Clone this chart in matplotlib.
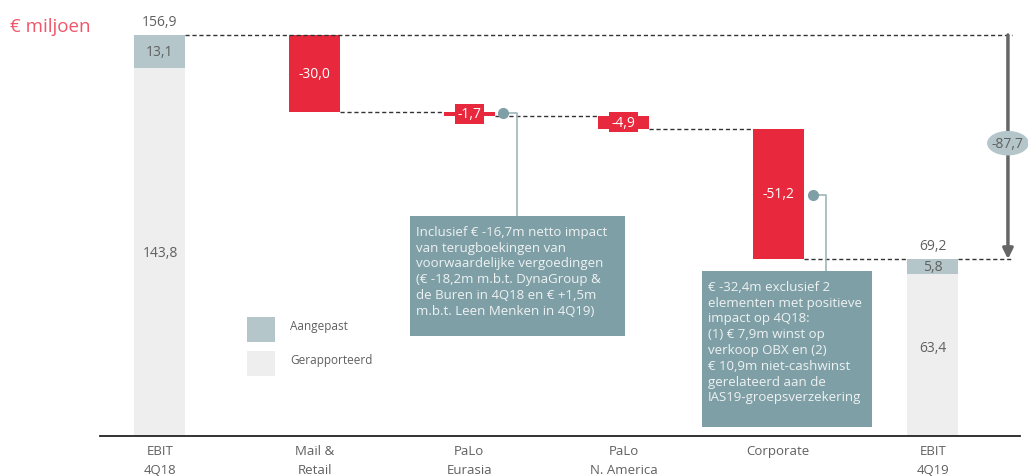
import numpy as np
import matplotlib
matplotlib.use("Agg")
import matplotlib.pyplot as plt
from matplotlib.patches import Rectangle, Ellipse

plt.rcParams['font.family'] = ['Open Sans', 'DejaVu Sans']

# data
categories = ["EBIT\n4Q18", "Mail &\nRetail", "PaLo\nEurasia", "PaLo\nN. America", "Corporate", "EBIT\n4Q19"]
start_reported = 143.8
start_adjusted = 13.1
deltas = [-30.0, -1.7, -4.9, -51.2]
end_reported = 63.4
end_adjusted = 5.8
delta_labels = ["-30,0", "-1,7", "-4,9", "-51,2"]
total_label = "-87,7"

note1 = ("Inclusief € -16,7m netto impact\nvan terugboekingen van\nvoorwaardelijke vergoedingen\n"
         "(€ -18,2m m.b.t. DynaGroup &\nde Buren in 4Q18 en € +1,5m\nm.b.t. Leen Menken in 4Q19)")
note2 = ("€ -32,4m exclusief 2\nelementen met positieve\nimpact op 4Q18:\n(1) € 7,9m winst op\n"
         "verkoop OBX en (2)\n€ 10,9m niet-cashwinst\ngerelateerd aan de\nIAS19-groepsverzekering")

RED = "#e8283c"
ADJ = "#b4c6ca"
REP = "#eeeeee"
BOX = "#7f9fa6"
GRAY = "#666666"
TXT = "#606060"

def fmt(v):
    return f"{v:.1f}".replace(".", ",")

fig = plt.figure(figsize=(10.28, 4.77), dpi=100)
ax = fig.add_axes([100 / 1028, 40 / 477, 920 / 1028, 437 / 477])
ax.set_xlim(-0.388, 5.563)
ax.set_ylim(0, 170.97)
for s in ["top", "right", "left"]:
    ax.spines[s].set_visible(False)
ax.spines["bottom"].set_color("#222222")
ax.spines["bottom"].set_linewidth(1.3)
ax.set_yticks([])
ax.set_xticks(range(len(categories)))
ax.set_xticklabels(categories, fontsize=9.5, color=TXT, linespacing=1.55)
ax.tick_params(axis="x", length=0, pad=6)

w = 0.33
x = np.arange(len(categories))

# start bar
start_total = start_reported + start_adjusted
ax.bar(x[0], start_reported, w, color=REP)
ax.bar(x[0], start_adjusted, w, bottom=start_reported, color=ADJ)
ax.text(x[0], start_reported / 2, fmt(start_reported), ha="center", va="center", fontsize=10, color=TXT)
ax.text(x[0], start_reported + start_adjusted / 2, fmt(start_adjusted), ha="center", va="center", fontsize=10, color=TXT)
ax.text(x[0], start_total + 2.5, fmt(start_total), ha="center", va="bottom", fontsize=10, color=TXT)

# end bar
end_total = end_reported + end_adjusted
ax.bar(x[5], end_reported, w, color=REP)
ax.bar(x[5], end_adjusted, w, bottom=end_reported, color=ADJ)
ax.text(x[5], end_reported / 2 + 3, fmt(end_reported), ha="center", va="center", fontsize=10, color=TXT)
ax.text(x[5], end_reported + end_adjusted / 2, fmt(end_adjusted), ha="center", va="center", fontsize=10, color=TXT)
ax.text(x[5], end_total + 2.5, fmt(end_total), ha="center", va="bottom", fontsize=10, color=TXT)

# deltas
level = start_total
levels = [level]
for i, d in enumerate(deltas):
    xi = x[i + 1]
    ax.bar(xi, d, w, bottom=level, color=RED)
    mid = level + d / 2
    if abs(d) > 10:
        ax.text(xi, mid, delta_labels[i], ha="center", va="center", fontsize=10, color="white")
    else:
        ax.text(xi, mid, delta_labels[i], ha="center", va="center", fontsize=10, color="white",
                bbox=dict(boxstyle="square,pad=0.18", fc=RED, ec="none"))
    level = level + d
    levels.append(level)

# dashed connectors
dash = dict(color="#333333", lw=1, ls=(0, (3, 2)))
ax.plot([x[0] + w / 2, 5.51], [levels[0], levels[0]], **dash)
for i in range(1, len(levels)):
    x0 = x[i] + w / 2
    x1 = x[i + 1] - w / 2
    ax.plot([x0, x1], [levels[i], levels[i]], **dash)
ax.plot([x[5] + w / 2, 5.51], [end_total, end_total], **dash)

# total arrow
ax.annotate("", xy=(5.485, end_total), xytext=(5.485, start_total),
            arrowprops=dict(arrowstyle="-|>,head_width=0.3,head_length=0.6", color=GRAY, lw=2.5,
                            shrinkA=0, shrinkB=0))
mid_y = (start_total + end_total) / 2 + 1.5
ax.add_patch(Ellipse((5.485, mid_y), 0.27, 9.6, fc=ADJ, ec="none", zorder=5, clip_on=False))
ax.text(5.485, mid_y, total_label, ha="center", va="center", fontsize=10, color=TXT, zorder=6, clip_on=False)

# notes
def note(xy_dot, x_turn, box, text):
    bx0, by0, bx1, by1 = box
    ax.plot([xy_dot[0], x_turn, x_turn], [xy_dot[1], xy_dot[1], by1], color="#9fb5ba", lw=1.2, zorder=3)
    ax.plot(xy_dot[0], xy_dot[1], "o", color="#7f9fa6", ms=7, zorder=4)
    ax.add_patch(Rectangle((bx0, by0), bx1 - bx0, by1 - by0, fc=BOX, ec="none", zorder=4))
    ax.text(bx0 + 0.04, by1 - 3.5, text, ha="left", va="top", fontsize=9.5, color="#eef2f3",
            linespacing=1.28, zorder=5)

note((2.219, 126.3), 2.309, (1.617, 39.1, 3.008, 86.1), note1)
note((4.224, 94.3), 4.308, (3.506, 3.5, 4.605, 64.6), note2)

# legend
fig.patches.append(Rectangle((247 / 1028, 1 - 343 / 477), 28 / 1028, 25 / 477, fc=ADJ, ec="none",
                             transform=fig.transFigure))
fig.patches.append(Rectangle((247 / 1028, 1 - 377 / 477), 28 / 1028, 25 / 477, fc=REP, ec="none",
                             transform=fig.transFigure))
fig.text(290 / 1028, 1 - 327 / 477, "Aangepast", fontsize=8.5, color=TXT, va="center")
fig.text(290 / 1028, 1 - 361 / 477, "Gerapporteerd", fontsize=8.5, color=TXT, va="center")

fig.text(10 / 1028, 1 - 27 / 477, "€ miljoen", fontsize=13.5, color="#f0566a", va="center")

fig.savefig("out.png", dpi=100)
